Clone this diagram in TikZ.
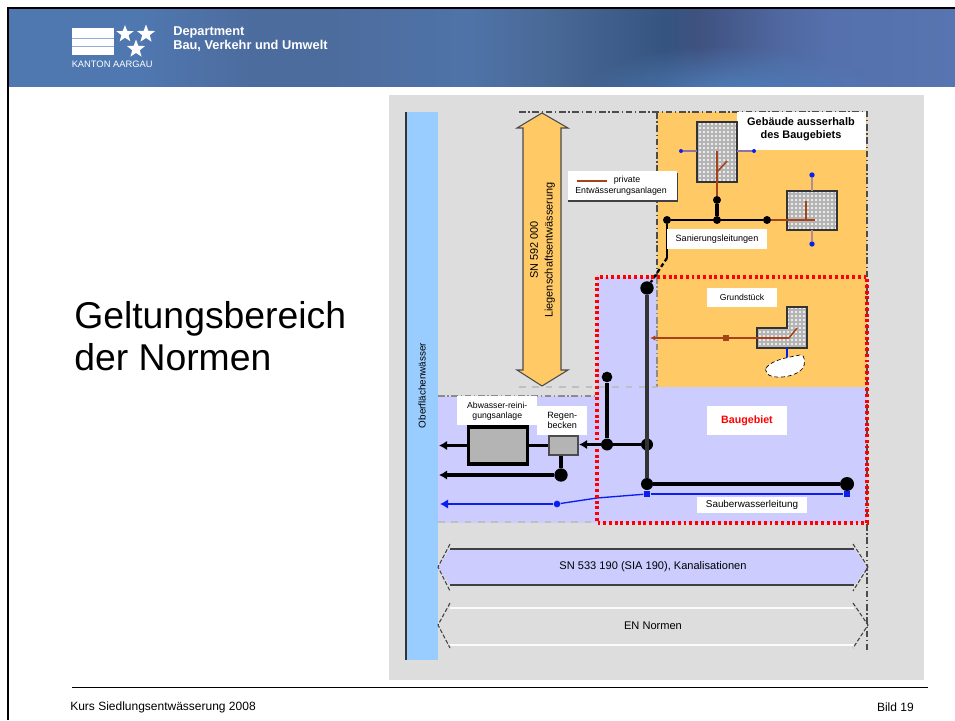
\documentclass[tikz,border=0pt]{standalone}
\usepackage{fontspec}
\setmainfont{Liberation Sans}
\usetikzlibrary{patterns,shapes.geometric,shadings,fadings,arrows.meta}
\definecolor{panel}{HTML}{DDDDDD}
\definecolor{orangeB}{HTML}{FFC966}
\definecolor{lilac}{HTML}{CCCCFF}
\definecolor{sky}{HTML}{99CCFF}
\definecolor{brownL}{HTML}{A5421A}
\definecolor{blueL}{HTML}{0A1EF0}
\definecolor{hdrA}{HTML}{4F77B0}
\definecolor{hdrB}{HTML}{4D6C9E}
\definecolor{hdrC}{HTML}{4F73A8}
\definecolor{hdrD}{HTML}{4A6A98}
\definecolor{hdrE}{HTML}{365480}
\definecolor{hdrF}{HTML}{3F5280}
\definecolor{hdrG}{HTML}{4F68A0}
\definecolor{hdrH}{HTML}{5570AD}
\definecolor{hdrI}{HTML}{5775B0}
\definecolor{hdrL}{HTML}{5080BC}
\definecolor{bldg}{HTML}{B4B4B4}
\pgfdeclarehorizontalshading{hdr}{100bp}{color(0bp)=(hdrA);color(25bp)=(hdrA);color(32bp)=(hdrA);color(37.8bp)=(hdrB);color(42bp)=(hdrB);color(49.4bp)=(hdrC);color(53.1bp)=(hdrD);color(59.7bp)=(hdrE);color(61.5bp)=(hdrF);color(65.8bp)=(hdrG);color(68.4bp)=(hdrH);color(75bp)=(hdrI);color(100bp)=(hdrI)}
\pgfdeclarepatternformonly{bdots}{\pgfqpoint{-1.2pt}{-1.2pt}}{\pgfqpoint{1.2pt}{1.2pt}}{\pgfqpoint{3pt}{3pt}}{\pgfpathcircle{\pgfqpoint{0pt}{0pt}}{0.85pt}\pgfusepath{fill}}
\tikzfading[name=softglow,inner color=transparent!0,outer color=transparent!100]
\tikzset{
 x=0.75pt,y=-0.75pt,
 lbl/.style={fill=white,inner sep=0pt,align=center,font=\fontsize{6.8}{7.6}\selectfont},
 txt/.style={inner sep=0pt,align=center},
 pipe/.style={draw=black,line width=2.4pt},
 thin pipe/.style={draw=black,line width=1.7pt},
 brn/.style={draw=brownL,line width=1.1pt},
 blu/.style={draw=blueL,line width=1pt},
 dotb/.style={circle,fill=black,inner sep=0pt,minimum size=6pt},
 dotbb/.style={circle,fill=black,inner sep=0pt,minimum size=8pt},
 dotblue/.style={circle,fill=blueL,inner sep=0pt,minimum size=4pt},
 limit/.style={draw=black!70,line width=0.9pt,dash pattern=on 5pt off 2pt on 1pt off 2pt},
 limitg/.style={draw=black!25,line width=0.8pt,dash pattern=on 5pt off 5pt},
 reddot/.style={draw=red,line width=2.4pt,dash pattern=on 2.2pt off 2.1pt},
 arr/.style={-{Latex[length=6pt,width=7pt]}},
 bstar/.style={star,star points=5,star point ratio=2.4,fill=white,inner sep=0pt},
 hatch/.style={pattern=bdots,pattern color=white},
}
\begin{document}
\begin{tikzpicture}
\useasboundingbox (0,0) rectangle (955,720);
\fill[white] (0,0) rectangle (955,720);
% header
\shade[shading=hdr] (8,8) rectangle (955,87);
\begin{scope}
\clip (8,8) rectangle (955,87);
\fill[hdrL,path fading=softglow] (730,95) ellipse [x radius=150,y radius=50];
\end{scope}
\coordinate (fa) at (8,720);\coordinate (fb) at (8,8);\coordinate (fc) at (955,8);
\draw[black,line width=2pt] (fa) -- (fb) -- (fc);
% logo
\fill[white] (72,28) rectangle (114,55);
\draw[hdrA!60!white,line width=.5pt] (72,38) -- (114,38) (72,46) -- (114,46);
\node[bstar,minimum size=13.5pt] (s1) at (125,34) {};
\node[bstar,minimum size=14.2pt] (s2) at (146,34) {};
\node[bstar,minimum size=14.2pt] (s3) at (136,49) {};
\node[txt,text=white,anchor=west,font=\fontsize{7}{8}\selectfont] (kt) at (71.5,64.5) {KANTON AARGAU};
\node[txt,text=white,anchor=west,font=\bfseries\fontsize{9.6}{10.5}\selectfont,align=left] (dep) at (173,39) {Department\\Bau, Verkehr und Umwelt};
% title
\node[txt,anchor=west,align=left,font=\fontsize{28}{32}\selectfont] (title) at (74,336) {Geltungsbereich\\der Normen};
% footer
\coordinate (la) at (72,687);\coordinate (lb) at (928,687);
\draw[black,line width=.6pt] (la) -- (lb);
\node[txt,anchor=west,font=\fontsize{9}{10}\selectfont] (f1) at (70,707.5) {Kurs Siedlungsentwässerung 2008};
\node[txt,anchor=east,font=\fontsize{9}{10}\selectfont] (f2) at (914,707.5) {Bild 19};
% panel
\fill[panel] (389,95) rectangle (924,680);
% blue bar
\fill[sky] (406,112) rectangle (438,660);
\draw[black!80,line width=1.2pt] (406,112) -- (406,660);
\node[txt,rotate=90,font=\fontsize{7.4}{8}\selectfont] (ow) at (422,385.5) {Oberflächenwässer};
% regions
\fill[orangeB] (657,112) rectangle (867,387);
\fill[lilac] (597,277) rectangle (657,387);
\fill[lilac] (597,387) rectangle (867,523);
\fill[lilac] (438,396) rectangle (597,523);
% limits
\draw[limit] (519,112) -- (867,112) -- (867,650);
\draw[limit] (657,112) -- (657,277);
\draw[limit,draw=black!45] (657,277) -- (657,387);
\draw[limitg] (519,387) -- (657,387);
\draw[limit,draw=black!45] (438,396) -- (597,396);
\draw[limitg] (438,522) -- (597,522);
% big orange arrow
\fill[orangeB,draw=black!70,line width=.8pt] (542,113) -- (568,128) -- (561,128) -- (561,370) -- (568,370) -- (542,386) -- (517,370) -- (523,370) -- (523,128) -- (517,128) -- cycle;
\node[txt,rotate=90,font=\fontsize{8.2}{11}\selectfont,align=center] (sn) at (542.5,250) {SN 592 000\\Liegenschaftsentwässerung};
% legend box
\fill[black!75] (567.5,173) rectangle (678,202);
\node[fill=white,minimum width=109pt*.75,minimum height=29pt*.75,inner sep=0pt] (leg) at (622,185.5) {};
\coordinate (lga) at (577,181);\coordinate (lgb) at (607,181);
\draw[brn] (lga) -- (lgb);
\node[txt,font=\fontsize{6.6}{7}\selectfont] (legt1) at (627,180.5) {private};
\node[txt,font=\fontsize{6.6}{7}\selectfont] (legt2) at (621,191) {Entwässerungsanlagen};
% gebaeude label
\fill[white] (737,112) rectangle (866,150);
\node[txt,font=\bfseries\fontsize{8.2}{10}\selectfont] (geb) at (801,129.5) {Gebäude ausserhalb\\des Baugebiets};
% building 1
\fill[bldg] (697,122) rectangle (737,182);
\fill[hatch] (697,122) rectangle (737,182);
\draw[black!80,line width=1pt] (697,122) rectangle (737,182);
% building 2
\fill[bldg] (787,191) rectangle (837,230);
\fill[hatch] (787,191) rectangle (837,230);
\draw[black!80,line width=1pt] (787,191) rectangle (837,230);
% building 3 (L)
\fill[bldg] (787,307) -- (807,307) -- (807,348) -- (757,348) -- (757,328) -- (787,328) -- cycle;
\fill[hatch] (787,307) -- (807,307) -- (807,348) -- (757,348) -- (757,328) -- (787,328) -- cycle;
\draw[black!80,line width=.8pt] (787,307) -- (807,307) -- (807,348) -- (757,348) -- (757,328) -- (787,328) -- cycle;
% blue stubs bld 1
\node[dotblue,minimum size=3pt] (b1ld) at (681,151) {};
\node[dotblue,minimum size=3pt] (b1rd) at (754,151) {};
\draw[blue!45!orangeB,line width=.8pt] (697,151) -- (b1ld) (737,151) -- (b1rd);
% blue stubs bld 2
\node[dotblue] (b2t) at (812,175) {};
\node[dotblue] (b2b) at (812,244) {};
\draw[blue!30!orangeB,line width=.8pt] (b2t) -- (812,191) (812,230) -- (b2b);
% sewer network upper
\node[dotb] (n1) at (667,220) {};
\node[dotb] (n2) at (717,220) {};
\node[dotb] (n3) at (767,220) {};
\node[dotb] (n4) at (717,200) {};
\draw[thin pipe] (n1) -- (n3);
\draw[pipe] (n2) -- (n4);
\coordinate (k1) at (667,258);
\node[dotbb,minimum size=10pt] (m1) at (647,288) {};
\draw[thin pipe] (n1) -- (k1);
\draw[thin pipe,densely dashed] (k1) -- (m1);
% brown internals
\coordinate (br1) at (717,151);\coordinate (br2) at (717,172);\coordinate (br3) at (727,161);
\draw[brn] (br1) -- (n4);
\draw[brn] (br2) -- (br3);
\coordinate (br4) at (815,220);\coordinate (br5) at (806,220);\coordinate (br6) at (806,201);
\draw[brn] (n3) -- (br4);
\draw[brn] (br5) -- (br6);
\node[lbl,minimum width=100pt*.75,minimum height=20pt*.75] (san) at (717,239) {Sanierungsleitungen};
% grundstueck
\node[lbl,font=\fontsize{6.5}{7}\selectfont,minimum width=70pt*.75,minimum height=19pt*.75] (gr) at (742,297.5) {Grundstück};
\coordinate (g1) at (789,338);\coordinate (g2) at (650,338);
\node[inner sep=0pt,fill=brownL,minimum size=4.5pt] (gd) at (726,338) {};
\draw[brn,-{Latex[length=4pt,width=4pt]}] (g1) -- (g2);
\coordinate (g3) at (789,338);\coordinate (g4) at (797,328);
\draw[brn] (g3) -- (g4);
\coordinate (g5) at (787,348);\coordinate (g6) at (787,358);
\draw[blu] (g5) -- (g6);
% pond
\fill[white,draw=black,line width=.5pt,densely dashed] (766,368) .. controls (772,360) and (785,358) .. (800,355) .. controls (806,354) and (805,365) .. (803,368) .. controls (796,378) and (770,380) .. (767,373) .. controls (766,371) and (765,370) .. (766,368) -- cycle;
% baugebiet
\node[lbl,text=red,minimum width=80pt*.75,minimum height=29pt*.75,font=\bfseries\fontsize{8}{9}\selectfont] (bg) at (747,420.5) {Baugebiet};
% main sewer
\node[dotbb,minimum size=9pt] (m2) at (647,444.5) {};
\node[dotbb,minimum size=9pt] (m3) at (647,484) {};
\node[dotbb,minimum size=10.5pt] (m4) at (847,484) {};
\node[dotbb,minimum size=9pt] (m5) at (607,444.5) {};
\node[dotbb] (m6) at (607,377) {};
\draw[draw=black!80,line width=2.6pt] (m1) -- (m3);
\draw[pipe,line width=3pt] (m3) -- (m4);
\draw[pipe] (m5) -- (m6);
\draw[pipe] (m2) -- (m5);
% sauberwasser
\node[dotblue,rectangle,minimum size=5pt] (c1) at (647,494) {};
\node[dotblue,rectangle,minimum size=5pt] (c2) at (847,494) {};
\node[dotblue,minimum size=5pt] (c3) at (557,504) {};
\coordinate (c4) at (440,504);
\coordinate (c5) at (597,498);
\draw[blu,line width=1.4pt] (c1) -- (c2);
\draw[blu] (c1) -- (c5) -- (c3);
\draw[blu,arr] (c3) -- (c4);
\node[lbl,font=\fontsize{7.4}{8}\selectfont,minimum width=110pt*.75,minimum height=16pt*.75] (sw) at (752,505) {Sauberwasserleitung};
% red limit
\draw[reddot] (597,277) rectangle (867,523);
% ARA
\node[lbl,font=\fontsize{6.5}{7.5}\selectfont,minimum width=80pt*.75,minimum height=29pt*.75,anchor=north west] (aral) at (457,396) {Abwasser-reini-\\gungsanlage};
\node[lbl,minimum width=50pt*.75,minimum height=29pt*.75,anchor=north west] (rbl) at (537,406) {Regen-\\becken};
\node[draw=black,line width=2.4pt,fill=bldg,minimum width=59pt*.75,minimum height=37pt*.75,inner sep=0pt] (ara) at (498,445.5) {};
\node[draw=black!70,line width=1.6pt,fill=bldg,minimum width=29pt*.75,minimum height=19pt*.75,inner sep=0pt] (rb) at (563.5,445.5) {};
\coordinate (o1) at (439,445);\coordinate (o2) at (439,475);
\node[dotbb,minimum size=10pt] (j) at (561,475) {};
\draw[pipe,arr] (ara.west) -- (ara.west -| o1);
\draw[pipe] (rb.west) -- (ara.east);
\draw[pipe,arr] (m5) -- (m5 -| rb.east);
\draw[pipe] (rb.south -| j) -- (j);
\draw[pipe,arr] (j) -- (j -| o2);
% norm arrows
\fill[lilac] (450,549) -- (854,549) -- (867,567) -- (854,585) -- (450,585) -- (438,567) -- cycle;
\draw[black!75,line width=1pt] (450,549) -- (854,549) (450,585) -- (854,585);
\draw[black!75,line width=.8pt,dash pattern=on 3pt off 1.5pt] (450,544) -- (438,567) -- (450,591) (853,544) -- (868,567) -- (853,591);
\node[txt,font=\fontsize{8.3}{9}\selectfont] (n190) at (653,567) {SN 533 190 (SIA 190), Kanalisationen};
\draw[white!85!panel,line width=.8pt] (450,608) -- (854,608) (450,645) -- (854,645);
\draw[black!75,line width=.8pt,dash pattern=on 3pt off 1.5pt] (450,603) -- (438,625) -- (450,648) (853,603) -- (868,625) -- (853,648);
\node[txt,font=\fontsize{8.3}{9}\selectfont] (nen) at (653,626) {EN Normen};
\end{tikzpicture}
\end{document}
